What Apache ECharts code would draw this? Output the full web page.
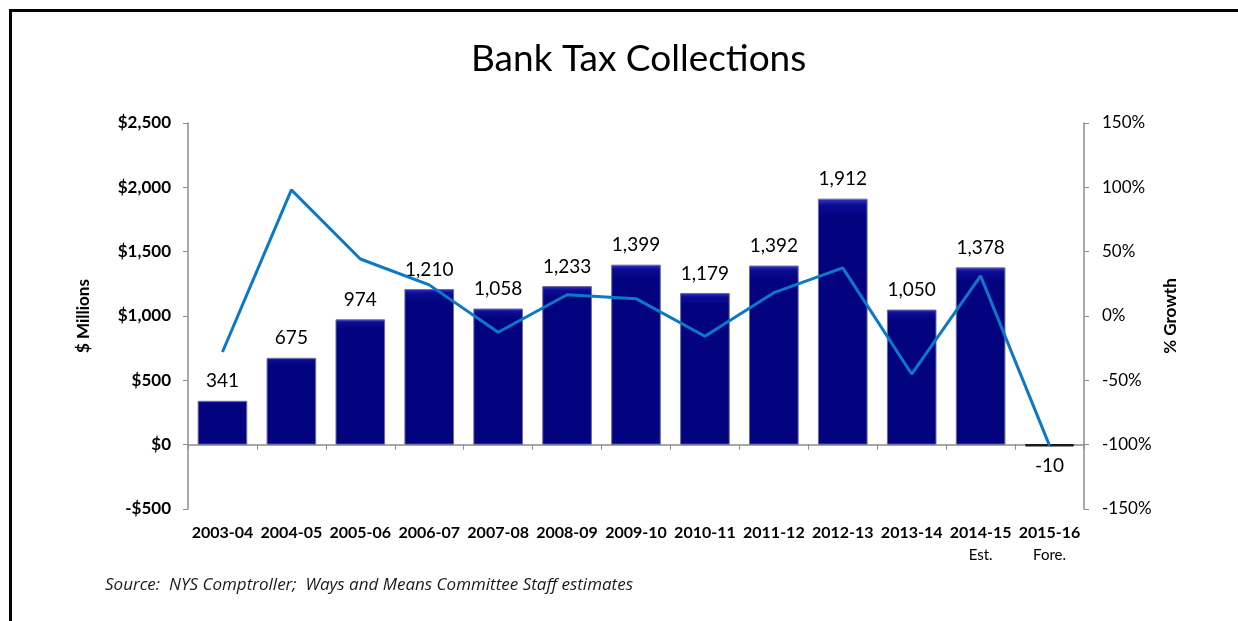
<!DOCTYPE html>
<html>
<head>
<meta charset="utf-8">
<script src="https://cdn.jsdelivr.net/npm/echarts@6/dist/echarts.min.js"></script>
<style>
html,body{margin:0;padding:0;background:#fff;}
#chart{width:1238px;height:621px;}
</style>
</head>
<body>
<div id="chart"></div>
<script>
const categories = ['2003-04','2004-05','2005-06','2006-07','2007-08','2008-09','2009-10','2010-11','2011-12','2012-13','2013-14','2014-15','2015-16'];
const subLabels = ['','','','','','','','','','','','Est.','Fore.'];
const collections = [341,675,974,1210,1058,1233,1399,1179,1392,1912,1050,1378,-10];
const growth = [-28,98,44.3,24.2,-12.6,16.5,13.5,-15.7,18.1,37.4,-45.1,31.2,-100.7];
const leftTicks = {min:-500,max:2500,interval:500};
const rightTicks = {min:-150,max:150,interval:50};

const FONT = 'Lato, "Open Sans", sans-serif';
const chart = echarts.init(document.getElementById('chart'));

const barData = collections.map(v => v < 0 ? {
  value: v,
  label: {position: 'bottom'},
  itemStyle: {color: '#111', borderColor: '#1a1a1a', borderWidth: 2.5}
} : v);

const axisGrey = '#8c8c8c';

chart.setOption({
  backgroundColor: '#fff',
  animation: false,
  textStyle: {fontFamily: FONT},
  title: {
    text: 'Bank Tax Collections',
    left: 466, top: 36,
    textStyle: {fontFamily: FONT, fontSize: 37, fontWeight: 'normal', color: '#000'}
  },
  grid: {left: 188, right: 154, top: 123, bottom: 112, containLabel: false, outerBoundsMode: 'none'},
  xAxis: [{
    type: 'category',
    data: categories,
    position: 'bottom',
    axisLine: {show: false, onZero: false},
    axisTick: {show: false},
    axisLabel: {
      margin: 13,
      interval: 0,
      formatter: (v, i) => subLabels[i] ? '{b|' + v + '}\n{n|' + subLabels[i] + '}' : '{b|' + v + '}',
      rich: {
        b: {fontFamily: FONT, fontSize: 16, fontWeight: 'bold', color: '#000', lineHeight: 22},
        n: {fontFamily: FONT, fontSize: 15, color: '#000', lineHeight: 22}
      }
    }
  }, {
    type: 'category',
    data: categories,
    position: 'bottom',
    axisLine: {show: true, onZero: true, onZeroAxisIndex: 0, lineStyle: {color: axisGrey, width: 1.5}},
    axisTick: {show: true, length: 5, lineStyle: {color: axisGrey}},
    axisLabel: {show: false}
  }],
  yAxis: [{
    type: 'value',
    min: leftTicks.min, max: leftTicks.max, interval: leftTicks.interval,
    name: '$ Millions',
    nameLocation: 'middle',
    nameGap: 96,
    nameTextStyle: {fontFamily: FONT, fontSize: 17, fontWeight: 'bold', color: '#000'},
    axisLine: {show: true, lineStyle: {color: axisGrey, width: 1.5}},
    axisTick: {show: true, length: 5, lineStyle: {color: axisGrey}},
    splitLine: {show: false},
    axisLabel: {
      margin: 17,
      fontFamily: FONT, fontSize: 17, fontWeight: 'bold', color: '#000',
      formatter: v => (v < 0 ? '-' : '') + '$' + Math.abs(v).toLocaleString('en-US')
    }
  }, {
    type: 'value',
    position: 'right',
    min: rightTicks.min, max: rightTicks.max, interval: rightTicks.interval,
    name: '% Growth',
    nameLocation: 'middle',
    nameGap: 78,
    nameRotate: 90,
    nameTextStyle: {fontFamily: FONT, fontSize: 17, fontWeight: 'bold', color: '#000'},
    axisLine: {show: true, lineStyle: {color: axisGrey, width: 1.5}},
    axisTick: {show: true, length: 5, lineStyle: {color: axisGrey}},
    splitLine: {show: false},
    axisLabel: {
      margin: 18,
      fontFamily: FONT, fontSize: 17, color: '#000',
      formatter: v => v + '%'
    }
  }],
  series: [{
    type: 'bar',
    xAxisIndex: 0,
    data: barData,
    barWidth: '72%',
    itemStyle: {
      color: {
        type: 'linear', x: 0, y: 0, x2: 0, y2: 1,
        colorStops: [
          {offset: 0, color: '#3a3acc'},
          {offset: 0.025, color: '#0c0c95'},
          {offset: 0.08, color: '#03037f'},
          {offset: 1, color: '#03037f'}
        ]
      },
      borderColor: '#6a6aa8',
      borderWidth: 1
    },
    label: {
      show: true,
      position: 'top',
      distance: 10,
      fontFamily: FONT, fontSize: 19, color: '#000',
      formatter: p => p.value.toLocaleString('en-US')
    },
    z: 2
  }, {
    type: 'line',
    xAxisIndex: 0,
    yAxisIndex: 1,
    data: growth,
    symbol: 'none',
    lineStyle: {color: '#0B78C8', width: 3},
    z: 3
  }],
  graphic: [
    {type: 'line', shape: {x1: 10.5, y1: 9, x2: 10.5, y2: 621}, style: {stroke: '#000', lineWidth: 3}},
    {type: 'line', shape: {x1: 9, y1: 10.5, x2: 1238, y2: 10.5}, style: {stroke: '#000', lineWidth: 3}},
    {type: 'text', left: 105, top: 577,
     style: {text: 'Source:  NYS Comptroller;  Ways and Means Committee Staff estimates',
             font: 'italic 17px "Open Sans", Lato, sans-serif', fill: '#1a1a1a'}}
  ]
});
</script>
</body>
</html>
